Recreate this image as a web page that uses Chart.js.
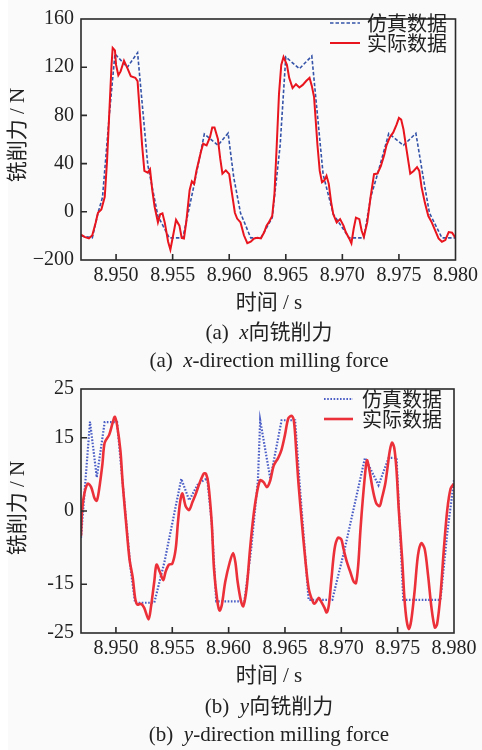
<!DOCTYPE html>
<html lang="zh-CN">
<head>
<meta charset="utf-8">
<title>铣削力</title>
<script src="https://cdn.jsdelivr.net/npm/chart.js@4.4.1/dist/chart.umd.min.js"></script>
<style>
  html, body { margin: 0; padding: 0; }
  body {
    width: 482px; height: 750px; position: relative; overflow: hidden;
    background: #fafafa; color: #222;
    font-family: "Liberation Serif", "Noto Sans CJK SC", serif;
  }
  .edge { position: absolute; left: 0; top: 0; width: 8px; height: 750px; background: #fff; }
  canvas { position: absolute; left: 0; }
  #fxChart { top: 0; }
  #fyChart { top: 370px; }
  .cap {
    position: absolute; left: 81px; width: 376px; text-align: center;
    font-size: 21px; line-height: 1; white-space: pre; transform: translateY(-50%);
  }
  .ytitle {
    position: absolute; left: 17px; font-size: 21px; line-height: 1; white-space: pre;
    transform: translate(-50%, -50%) rotate(-90deg);
  }
</style>
</head>
<body>
<div class="edge"></div>
<canvas id="fxChart" width="482" height="295"></canvas>
<canvas id="fyChart" width="482" height="295"></canvas>

<div class="ytitle" style="top:135px">铣削力 / N</div>
<div class="cap" style="top:302px">时间 / s</div>
<div class="cap" style="top:332px">(a)  <i>x</i>向铣削力</div>
<div class="cap" style="top:360px">(a)  <i>x</i>-direction milling force</div>

<div class="ytitle" style="top:508px">铣削力 / N</div>
<div class="cap" style="top:675px">时间 / s</div>
<div class="cap" style="top:706px">(b)  <i>y</i>向铣削力</div>
<div class="cap" style="top:734px">(b)  <i>y</i>-direction milling force</div>

<script>
// time axis (s)
const timeTicks = [8.950, 8.955, 8.960, 8.965, 8.970, 8.975, 8.980];
const timeTickLabels = ["8.950", "8.955", "8.960", "8.965", "8.970", "8.975", "8.980"];

// force axes (N)
const fxTicks = [160, 120, 80, 40, 0, -40];
const fxTickLabels = ["160", "120", "80", "40", "0", "−200"];
const fyTicks = [25, 15, 0, -15, -25];
const fyTickLabels = ["25", "15", "0", "-15", "-25"];

const legendNames = ["仿真数据", "实际数据"];

// x-direction, simulation
const fxSimTime = [8.9469, 8.9479, 8.9484, 8.9488, 8.9494, 8.9499, 8.9510, 8.9519, 8.9528, 8.9537,
  8.9547, 8.9559, 8.9568, 8.9578, 8.9590, 8.9599, 8.9604, 8.9610, 8.9619, 8.9628,
  8.9638, 8.9645, 8.9650, 8.9662, 8.9673, 8.9683, 8.9692, 8.9706, 8.9719, 8.9725,
  8.9731, 8.9741, 8.9754, 8.9765, 8.9773, 8.9777, 8.9788, 8.9800];
const fxSimForce = [-20, -21.6, -1, 12, 80, 131, 120, 132, 39, -3.5,
  -21.6, -21.6, 18, 64.5, 55.2, 65.3, 28.5, -1, -21.6, -21.6,
  -5, 55, 128.5, 118.7, 129.3, 31, -2, -21.6, -21.6, 12,
  31, 65, 55.2, 65.1, 20, -1, -21.6, -21.6];

// x-direction, measured
const fxMeasTime = [8.9469, 8.9472, 8.9476, 8.9479, 8.9482, 8.9484, 8.9487, 8.9490, 8.9492, 8.9494,
  8.9496, 8.9497, 8.9499, 8.9500, 8.9502, 8.9504, 8.9507, 8.9510, 8.9513, 8.9517,
  8.9519, 8.9521, 8.9523, 8.9525, 8.9528, 8.9530, 8.9532, 8.9534, 8.9537, 8.9539,
  8.9541, 8.9543, 8.9546, 8.9548, 8.9551, 8.9553, 8.9556, 8.9558, 8.9560, 8.9562,
  8.9565, 8.9567, 8.9569, 8.9571, 8.9575, 8.9577, 8.9580, 8.9583, 8.9585, 8.9587,
  8.9590, 8.9592, 8.9594, 8.9597, 8.9600, 8.9602, 8.9605, 8.9607, 8.9610, 8.9613,
  8.9616, 8.9619, 8.9622, 8.9625, 8.9628, 8.9631, 8.9633, 8.9635, 8.9638, 8.9640,
  8.9642, 8.9644, 8.9646, 8.9648, 8.9651, 8.9653, 8.9656, 8.9659, 8.9662, 8.9665,
  8.9668, 8.9671, 8.9673, 8.9675, 8.9676, 8.9678, 8.9680, 8.9682, 8.9684, 8.9686,
  8.9688, 8.9690, 8.9692, 8.9695, 8.9698, 8.9701, 8.9703, 8.9706, 8.9708, 8.9710,
  8.9712, 8.9715, 8.9717, 8.9719, 8.9722, 8.9725, 8.9728, 8.9731, 8.9734, 8.9737,
  8.9739, 8.9742, 8.9745, 8.9748, 8.9750, 8.9752, 8.9754, 8.9757, 8.9760, 8.9763,
  8.9766, 8.9768, 8.9770, 8.9773, 8.9776, 8.9779, 8.9782, 8.9785, 8.9788, 8.9791,
  8.9794, 8.9797, 8.9800];
const fxMeasForce = [-18.9, -20.8, -22.1, -19.5, -8.8, -0.8, 1.9, 12.5, 41.9, 81.9,
  121.9, 136, 133.9, 121.9, 113.3, 116.5, 125.3, 119.2, 112.5, 111.2,
  108.5, 81.9, 55.2, 33.9, 32.5, 35.2, 17.9, 4.5, -8.8, -2.1,
  -1.3, -8.8, -24.8, -31.5, -16.8, -6.7, -11.5, -21.6, -22.1, -8.8,
  17.9, 25.3, 23.2, 33.9, 49.9, 56.5, 55.2, 61.9, 69.9, 69.9,
  60.5, 44.5, 31.7, 34.4, 31.2, 17.9, -0.8, -5.6, -8.8, -19.5,
  -26.1, -24.8, -22.1, -21.6, -22.1, -16.8, -11.5, -8.8, -3.5, 15.2,
  55.2, 97.9, 121.9, 128.5, 121.9, 111.2, 102.7, 105.9, 103.2, 105.3,
  108.5, 111.2, 104.5, 95.2, 81.9, 55.2, 33.9, 24.5, 25.9, 29.9,
  23.2, 8.5, -2.1, -8.8, -6.1, -11.5, -16.8, -22.1, -26.1, -14.1,
  -4.8, -6.1, -15.5, -20.8, -8.8, 12.5, 31.2, 31.7, 37.9, 47.2,
  55.2, 61.9, 65.9, 72.5, 77.9, 76.5, 68.5, 49.9, 31.7, 33.9,
  37.1, 33.9, 20.5, 7.2, -3.5, -8.8, -15.5, -22.1, -24.8, -23.5,
  -16.8, -17.3, -21.6];

// y-direction, simulation
const fySimTime = [8.9469, 8.9477, 8.9483, 8.9490, 8.9501, 8.9506, 8.9513, 8.9517, 8.9534, 8.9543,
  8.9558, 8.9565, 8.9573, 8.9581, 8.9585, 8.9589, 8.9614, 8.9620, 8.9626, 8.9628,
  8.9637, 8.9647, 8.9659, 8.9663, 8.9671, 8.9692, 8.9703, 8.9721, 8.9733, 8.9742,
  8.9749, 8.9755, 8.9788, 8.9794, 8.9800];
const fySimForce = [-5.5, 18.3, 6.9, 18.2, 18.2, 5.6, -11.8, -18.8, -18.8, -10.5,
  6.6, 2.2, 5.6, 6.7, -2.4, -18.5, -18.5, -7.8, 6.3, 18.6,
  6.6, 18.6, 18.6, 5.6, -18.2, -18.2, -7.8, 10.9, 5.3, 10.9,
  10.9, -18.2, -18.2, -4.5, 6.3];

// y-direction, measured
const fyMeasTime = [8.9469, 8.9470, 8.9472, 8.9475, 8.9478, 8.9481, 8.9483, 8.9485, 8.9488, 8.9490,
  8.9494, 8.9497, 8.9499, 8.9501, 8.9504, 8.9506, 8.9509, 8.9512, 8.9515, 8.9517,
  8.9519, 8.9522, 8.9525, 8.9529, 8.9531, 8.9534, 8.9536, 8.9539, 8.9542, 8.9544,
  8.9547, 8.9550, 8.9553, 8.9555, 8.9557, 8.9559, 8.9562, 8.9565, 8.9568, 8.9571,
  8.9574, 8.9578, 8.9580, 8.9582, 8.9585, 8.9587, 8.9590, 8.9592, 8.9594, 8.9597,
  8.9601, 8.9604, 8.9606, 8.9608, 8.9611, 8.9613, 8.9616, 8.9619, 8.9622, 8.9625,
  8.9628, 8.9631, 8.9634, 8.9637, 8.9640, 8.9644, 8.9647, 8.9650, 8.9653, 8.9656,
  8.9658, 8.9660, 8.9662, 8.9665, 8.9668, 8.9671, 8.9674, 8.9676, 8.9678, 8.9680,
  8.9682, 8.9685, 8.9687, 8.9689, 8.9691, 8.9694, 8.9697, 8.9700, 8.9702, 8.9705,
  8.9708, 8.9711, 8.9713, 8.9715, 8.9717, 8.9719, 8.9722, 8.9723, 8.9725, 8.9728,
  8.9731, 8.9734, 8.9736, 8.9739, 8.9741, 8.9743, 8.9745, 8.9747, 8.9749, 8.9751,
  8.9754, 8.9756, 8.9758, 8.9760, 8.9762, 8.9765, 8.9768, 8.9771, 8.9774, 8.9777,
  8.9780, 8.9783, 8.9785, 8.9788, 8.9791, 8.9794, 8.9797, 8.9800];
const fyMeasForce = [-5.1, 0.2, 3.6, 5.6, 4.9, 2.6, 2.1, 4.3, 9.6, 14.0,
  15.6, 18.0, 19.3, 17.6, 12.3, 5.6, -2.4, -9.8, -13.8, -17.8,
  -19.2, -19.0, -19.8, -22.2, -19.8, -14.5, -11.0, -12.5, -14.2, -12.5,
  -11.0, -10.8, -7.8, -2.4, 1.9, 3.6, 0.9, 0.2, 1.9, 3.6,
  5.6, 7.7, 7.6, 5.6, -2.4, -11.8, -18.5, -20.4, -19.2, -14.5,
  -10.5, -8.6, -10.5, -14.5, -18.5, -19.5, -15.8, -7.8, -1.1, 3.6,
  6.3, 5.9, 4.9, 6.3, 9.3, 10.9, 12.6, 15.6, 19.0, 19.5,
  18.3, 12.3, 5.6, -2.4, -9.8, -15.8, -18.2, -19.0, -18.5, -17.8,
  -18.5, -19.8, -20.8, -19.2, -14.5, -7.8, -5.5, -5.8, -7.8, -10.5,
  -12.5, -14.5, -14.8, -11.1, -3.8, 2.2, 9.6, 10.4, 8.3, 4.3,
  1.6, 1.0, 2.6, 5.6, 8.9, 12.3, 14.0, 12.9, 8.3, 0.2,
  -9.8, -17.8, -22.5, -24.2, -22.5, -16.5, -9.1, -6.6, -7.8, -13.2,
  -19.8, -23.9, -23.2, -17.2, -7.8, 0.2, 4.6, 5.6];

function toPoints(times, values) {
  return times.map((t, i) => ({ x: t, y: values[i] }));
}

// Box around the plot, inward tick marks and the legend in the upper right
const frameAndTicks = {
  id: "frameAndTicks",
  afterDatasetsDraw(chart, args, opts) {
    const { ctx, chartArea: a, scales } = chart;
    ctx.save();
    ctx.strokeStyle = "#2a2a2a";
    ctx.lineWidth = 1.6;
    ctx.setLineDash([]);
    ctx.strokeRect(a.left, a.top, a.right - a.left, a.bottom - a.top);

    ctx.beginPath();
    scales.x.ticks.forEach((t) => {
      const x = scales.x.getPixelForValue(t.value);
      if (x <= a.left + 1 || x >= a.right - 1) return;
      ctx.moveTo(x, a.bottom);
      ctx.lineTo(x, a.bottom - 6);
    });
    scales.y.ticks.forEach((t) => {
      const y = scales.y.getPixelForValue(t.value);
      if (y <= a.top + 1 || y >= a.bottom - 1) return;
      ctx.moveTo(a.left, y);
      ctx.lineTo(a.left + 6, y);
    });
    ctx.stroke();

    // legend: simulation first, then measured
    const order = [1, 0];
    ctx.font = '20px "Noto Sans CJK SC", sans-serif';
    ctx.textBaseline = "middle";
    ctx.fillStyle = "#222";
    order.forEach((di, row) => {
      const ds = chart.data.datasets[di];
      const y = opts.top + row * opts.rowGap;
      ctx.strokeStyle = ds.borderColor;
      ctx.lineWidth = ds.borderWidth;
      ctx.setLineDash(ds.borderDash || []);
      ctx.beginPath();
      ctx.moveTo(opts.left, y);
      ctx.lineTo(opts.left + opts.lineLen, y);
      ctx.stroke();
      ctx.fillText(legendNames[row], opts.left + opts.lineLen + opts.gap, y);
    });
    ctx.restore();
  },
};

function makeOptions(yMin, yMax, yTicks, yLabels, padding, xHeight, legend) {
  const tickFont = { family: "'Liberation Serif', 'Times New Roman', serif", size: 20 };
  return {
    responsive: false,
    animation: false,
    devicePixelRatio: 1,
    layout: { padding },
    elements: { point: { radius: 0 } },
    plugins: {
      legend: { display: false },
      tooltip: { enabled: false },
      frameAndTicks: legend,
    },
    scales: {
      x: {
        type: "linear",
        min: 8.9469,
        max: 8.9800,
        grid: { display: false, drawTicks: false },
        border: { display: false },
        afterBuildTicks: (s) => { s.ticks = timeTicks.map((v) => ({ value: v })); },
        afterFit: (s) => { s.height = xHeight; },
        ticks: {
          padding: 4,
          color: "#222",
          font: tickFont,
          maxRotation: 0,
          autoSkip: false,
          callback: (v, i) => timeTickLabels[i],
        },
      },
      y: {
        min: yMin,
        max: yMax,
        grid: { display: false, drawTicks: false },
        border: { display: false },
        afterBuildTicks: (s) => { s.ticks = yTicks.map((v) => ({ value: v })); },
        afterFit: (s) => { s.width = 81; },
        ticks: {
          padding: 7,
          color: "#222",
          font: tickFont,
          autoSkip: false,
          callback: (v, i) => yLabels[i],
        },
      },
    },
  };
}

new Chart(document.getElementById("fxChart"), {
  type: "line",
  plugins: [frameAndTicks],
  data: {
    datasets: [
      {
        label: "实际数据",
        data: toPoints(fxMeasTime, fxMeasForce),
        borderColor: "#e8141e",
        borderWidth: 2,
        tension: 0,
        order: 0,
      },
      {
        label: "仿真数据",
        data: toPoints(fxSimTime, fxSimForce),
        borderColor: "#3453a8",
        borderWidth: 1.6,
        borderDash: [3.5, 2],
        tension: 0,
        order: 1,
      },
    ],
  },
  options: makeOptions(-40, 160, fxTicks, fxTickLabels,
    { left: 0, top: 10, right: 25, bottom: 0 }, 35,
    { left: 330, top: 23, rowGap: 20, lineLen: 30, gap: 7 }),
});

new Chart(document.getElementById("fyChart"), {
  type: "line",
  plugins: [frameAndTicks],
  data: {
    datasets: [
      {
        label: "实际数据",
        data: toPoints(fyMeasTime, fyMeasForce),
        borderColor: "#ec3039",
        borderWidth: 2.6,
        tension: 0.3,
        order: 0,
      },
      {
        label: "仿真数据",
        data: toPoints(fySimTime, fySimForce),
        borderColor: "#4b5ec6",
        borderWidth: 2.2,
        borderDash: [1.6, 1.6],
        tension: 0,
        order: 1,
      },
    ],
  },
  options: makeOptions(-25, 25, fyTicks, fyTickLabels,
    { left: 0, top: 13, right: 28, bottom: 0 }, 32,
    { left: 324, top: 29, rowGap: 20, lineLen: 29, gap: 9 }),
});
</script>
</body>
</html>
